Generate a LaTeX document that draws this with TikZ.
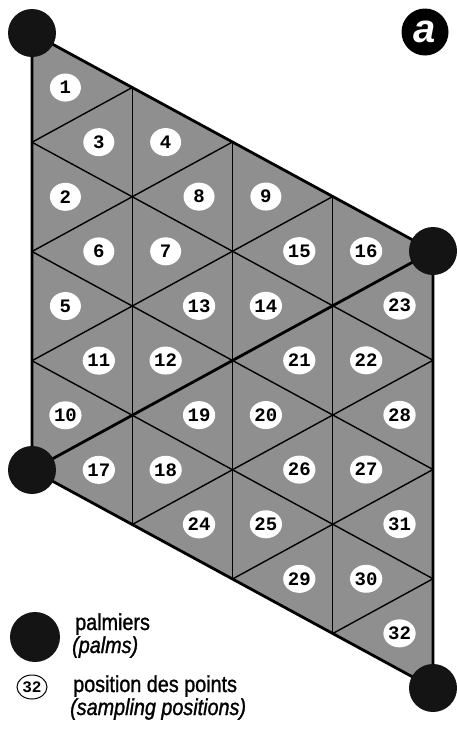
\documentclass[tikz,border=0pt]{standalone}
\usepackage{fontspec}
\setmainfont{Liberation Sans}
\setmonofont{Liberation Mono}
\newfontfamily\keyfont[FakeStretch=0.86, FakeBold=1.2]{Liberation Sans}
\usetikzlibrary{shapes.geometric, positioning, calc}
\definecolor{plotgray}{gray}{0.56}
\definecolor{palmblack}{gray}{0.08}

\begin{document}
\begin{tikzpicture}[x=1pt, y=-1pt,
    palm/.style={circle, fill=palmblack, minimum size=48pt, inner sep=0pt},
    spot/.style={ellipse, fill=white, minimum width=31pt, minimum height=28pt, inner sep=0pt,
                 font=\fontsize{19}{19}\selectfont\ttfamily\bfseries},
    gridline/.style={line width=1.4pt},
    border/.style={line width=2.8pt, line join=round},
    keytext/.style={anchor=base west, inner sep=0pt, font=\fontsize{23}{23}\selectfont\keyfont},
    keyital/.style={keytext, font=\fontsize{23}{23}\selectfont\keyfont\itshape}
]
\useasboundingbox (0,0) rectangle (457,729);

% corners of the triangular grid
\foreach \i in {0,...,4}
  \foreach \j in {0,...,4}
    \coordinate (p\i\j) at ({32+100.25*\i}, {33+54.5*\i+109.25*\j});

\fill[plotgray] (p00) -- (p40) -- (p44) -- (p04) -- cycle;
\foreach \k in {1,2,3} {
  \draw[gridline] (p\k0) -- (p\k4);
  \draw[gridline] (p0\k) -- (p4\k);
  \draw[gridline] (p0\k) -- (p\k0);
  \draw[gridline] (p\k4) -- (p4\k);
}
\draw[border] (p04) -- (p40);
\draw[border] (p00) -- (p40) -- (p44) -- (p04) -- cycle;

% sampling positions, one per triangle
\foreach \n/\a/\b/\c in {1/p00/p10/p01, 3/p10/p11/p01, 4/p10/p20/p11, 8/p20/p21/p11,
    2/p01/p11/p02, 6/p11/p12/p02, 7/p11/p21/p12, 9/p20/p30/p21,
    15/p30/p31/p21, 16/p30/p40/p31, 23/p40/p41/p31, 5/p02/p12/p03,
    13/p21/p22/p12, 14/p21/p31/p22, 11/p12/p13/p03, 12/p12/p22/p13,
    21/p31/p32/p22, 22/p31/p41/p32, 10/p03/p13/p04, 19/p22/p23/p13,
    20/p22/p32/p23, 28/p41/p42/p32, 17/p13/p14/p04, 18/p13/p23/p14,
    26/p32/p33/p23, 27/p32/p42/p33, 24/p23/p24/p14, 25/p23/p33/p24,
    31/p42/p43/p33, 29/p33/p34/p24, 30/p33/p43/p34, 32/p43/p44/p34}
  \node[spot] (s\n) at ($0.3333*(\a)+0.3333*(\b)+0.3333*(\c)$) {\n};

% palms
\node[palm] (palmnw) at (p00) {};
\node[palm] (palmne) at (p40) {};
\node[palm] (palmsw) at (p04) {};
\node[palm] (palmse) at (p44) {};

\node[circle, fill=black, minimum size=47pt, inner sep=0pt, text=white,
      font=\fontsize{40}{40}\selectfont\bfseries\itshape] (tag) at (425,32) {a};

% legend
\node[palm, minimum size=50pt] (keypalm) at (35,637) {};
\node[keytext] (keypalmfr) at (75,630) {palmiers};
\node[keyital] (keypalmen) at (72,653) {(palms)};
\node[spot, draw=black, line width=1pt, minimum width=30pt, minimum height=24pt,
      font=\fontsize{16}{16}\selectfont\ttfamily\bfseries] (keyspot) at (32,687) {32};
\node[keytext] (keyspotfr) at (73,692) {position des points};
\node[keyital] (keyspoten) at (70,715) {(sampling positions)};
\end{tikzpicture}
\end{document}
